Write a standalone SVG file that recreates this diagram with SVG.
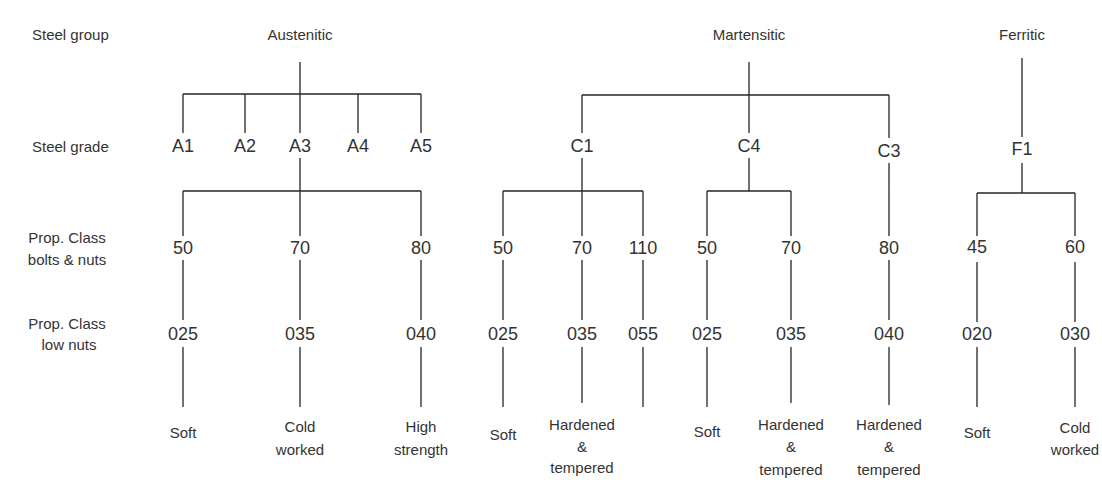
<svg xmlns="http://www.w3.org/2000/svg" width="1102" height="483" viewBox="0 0 1102 483">
<style>
text{font-family:"Liberation Sans",Arial,sans-serif;fill:#333;}
.s{font-size:15px;}
.b{font-size:18px;text-anchor:middle;}
.m{font-size:15px;text-anchor:middle;}
.c path{stroke:#262626;stroke-width:1.3;fill:none;}
</style>
<rect width="1102" height="483" fill="#fff"/>
<g id="row-labels">
<g id="lbl-group"><text class="s" x="32" y="40">Steel group</text></g>
<g id="lbl-grade"><text class="s" x="32" y="152">Steel grade</text></g>
<g id="lbl-prop"><text class="m" x="67" y="243">Prop. Class</text><text class="m" x="67" y="265">bolts &amp; nuts</text></g>
<g id="lbl-low"><text class="m" x="67" y="329">Prop. Class</text><text class="m" x="69" y="350">low nuts</text></g>
</g>
<g class="c" id="connectors">
<path d="M300 62V133M183 94H421M183 94V133M245 94V133M358 94V133M421 94V133"/>
<path d="M300 158V236M183 191H421M183 191V236M421 191V236"/>
<path d="M183 260V320M300 260V320M421 260V320M183 347V407M300 347V407M421 347V407"/>
<path d="M749 62V133M582 95H889M582 95V133M889 95V138"/>
<path d="M582 158V236M503 191H643M503 191V236M643 191V236"/>
<path d="M749 158V191M707 191H791M707 191V236M791 191V236M889 163V236"/>
<path d="M503 260V320M582 260V320M643 260V320M707 260V320M791 260V320M889 260V320"/>
<path d="M503 347V407M582 347V403M643 347V407M707 347V407M791 347V403M889 347V405"/>
<path d="M1022 58V137M1022 163V193M977 193H1075M977 193V236M1075 193V236"/>
<path d="M977 262V322M1075 262V322M977 347V407M1075 347V407"/>
</g>
<g id="austenitic"><text class="m" x="300" y="40">Austenitic</text></g>
<g id="martensitic"><text class="m" x="749" y="40">Martensitic</text></g>
<g id="ferritic"><text class="m" x="1022" y="40">Ferritic</text></g>
<g id="A1"><text class="b" x="183" y="152">A1</text></g>
<g id="A2"><text class="b" x="245" y="152">A2</text></g>
<g id="A3"><text class="b" x="300" y="152">A3</text></g>
<g id="A4"><text class="b" x="358" y="152">A4</text></g>
<g id="A5"><text class="b" x="421" y="152">A5</text></g>
<g id="C1"><text class="b" x="582" y="152">C1</text></g>
<g id="C4"><text class="b" x="749" y="152">C4</text></g>
<g id="C3"><text class="b" x="889" y="157">C3</text></g>
<g id="F1"><text class="b" x="1022" y="155">F1</text></g>
<g id="A-50"><text class="b" x="183" y="254">50</text></g>
<g id="A-70"><text class="b" x="300" y="254">70</text></g>
<g id="A-80"><text class="b" x="421" y="254">80</text></g>
<g id="C1-50"><text class="b" x="503" y="254">50</text></g>
<g id="C1-70"><text class="b" x="582" y="254">70</text></g>
<g id="C1-110"><text class="b" x="643" y="254">110</text></g>
<g id="C4-50"><text class="b" x="707" y="254">50</text></g>
<g id="C4-70"><text class="b" x="791" y="254">70</text></g>
<g id="C3-80"><text class="b" x="889" y="254">80</text></g>
<g id="F1-45"><text class="b" x="977" y="253">45</text></g>
<g id="F1-60"><text class="b" x="1075" y="253">60</text></g>
<g id="A-025"><text class="b" x="183" y="340">025</text></g>
<g id="A-035"><text class="b" x="300" y="340">035</text></g>
<g id="A-040"><text class="b" x="421" y="340">040</text></g>
<g id="C1-025"><text class="b" x="503" y="340">025</text></g>
<g id="C1-035"><text class="b" x="582" y="340">035</text></g>
<g id="C1-055"><text class="b" x="643" y="340">055</text></g>
<g id="C4-025"><text class="b" x="707" y="340">025</text></g>
<g id="C4-035"><text class="b" x="791" y="340">035</text></g>
<g id="C3-040"><text class="b" x="889" y="340">040</text></g>
<g id="F1-020"><text class="b" x="977" y="340">020</text></g>
<g id="F1-030"><text class="b" x="1075" y="340">030</text></g>
<g id="A-soft"><text class="m" x="183" y="438">Soft</text></g>
<g id="A-cold"><text class="m" x="300" y="432">Cold</text><text class="m" x="300" y="455">worked</text></g>
<g id="A-high"><text class="m" x="421" y="432">High</text><text class="m" x="421" y="455">strength</text></g>
<g id="C1-soft"><text class="m" x="503" y="440">Soft</text></g>
<g id="C1-hard"><text class="m" x="582" y="430">Hardened</text><text class="m" x="582" y="452">&amp;</text><text class="m" x="582" y="473">tempered</text></g>
<g id="C4-soft"><text class="m" x="707" y="437">Soft</text></g>
<g id="C4-hard"><text class="m" x="791" y="430">Hardened</text><text class="m" x="791" y="452">&amp;</text><text class="m" x="791" y="475">tempered</text></g>
<g id="C3-hard"><text class="m" x="889" y="430">Hardened</text><text class="m" x="889" y="452">&amp;</text><text class="m" x="889" y="475">tempered</text></g>
<g id="F1-soft"><text class="m" x="977" y="438">Soft</text></g>
<g id="F1-cold"><text class="m" x="1075" y="433">Cold</text><text class="m" x="1075" y="455">worked</text></g>
</svg>
